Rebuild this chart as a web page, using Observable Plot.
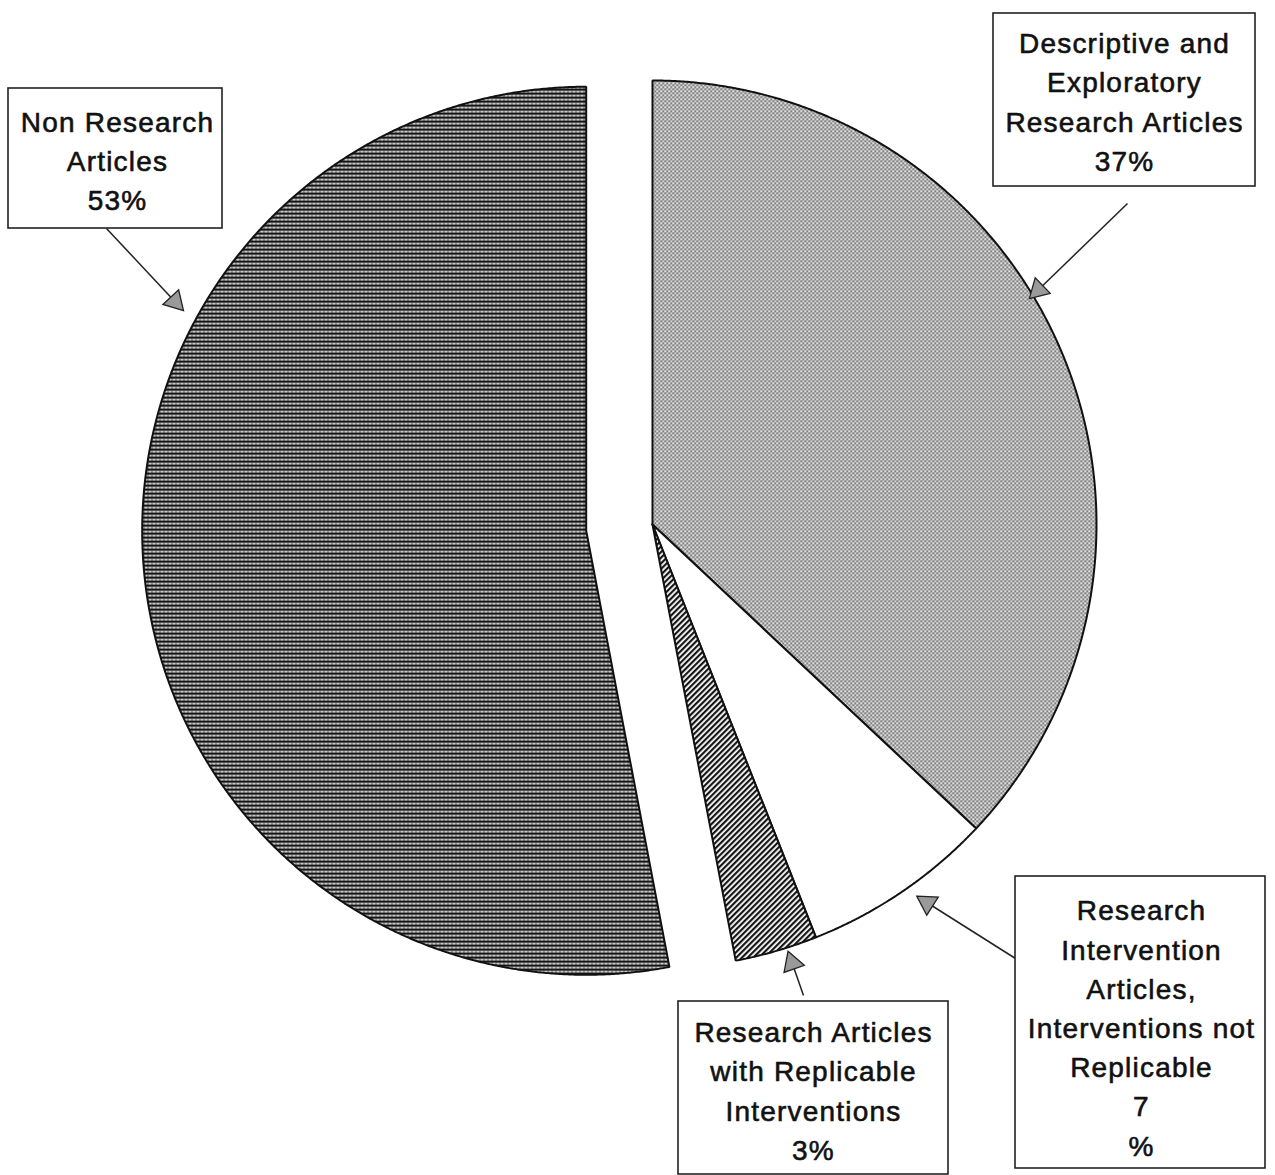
<!DOCTYPE html>
<html>
<head>
<meta charset="utf-8">
<script src="https://cdn.jsdelivr.net/npm/d3@7"></script>
<script src="https://cdn.jsdelivr.net/npm/@observablehq/plot@0.6"></script>
<style>
  html, body { margin: 0; padding: 0; background: #fff; }
  #chart { width: 1275px; height: 1175px; overflow: hidden; }
</style>
</head>
<body>
<div id="chart"></div>
<script>
// ---- data ----
const categories = [
  "Descriptive and Exploratory Research Articles",
  "Research Intervention Articles, Interventions not Replicable",
  "Research Articles with Replicable Interventions",
  "Non Research Articles"
];
const shares = [37, 7, 3, 53];
const labelTexts = [
  "Descriptive and\nExploratory\nResearch Articles\n37%",
  "Research\nIntervention\nArticles,\nInterventions not\nReplicable\n7\n%",
  "Research Articles\nwith Replicable\nInterventions\n3%",
  "Non Research\nArticles\n53%"
];

// ---- layout (pixels) ----
const W = 1275, H = 1175;
const center = [652, 524], radiusPx = 444;
const explode = [0, 0, 0, 0.15];
const fills = ["url(#stipple)", "#ffffff", "url(#diag)", "url(#hlines)"];
const boxes = [[993, 13, 1255, 186], [1015, 876, 1265, 1168], [678, 1001, 948, 1174], [8, 88, 222, 228]];
const textAt = [[1124, 99], [1141, 1025], [813, 1088], [117, 158]];
const arrows = [[1127, 203, 1032, 295], [1015, 958, 920, 898], [803, 995, 789, 955], [106, 228, 180, 307]];

const px2x = p => (p - center[0]) / radiusPx;
const px2y = p => (center[1] - p) / radiusPx;

// ---- slices ----
const arcs = d3.pie().sort(null).value(d => d)(shares);
const slices = arcs.map((a, i) => {
  const mid = (a.startAngle + a.endAngle) / 2;
  const cx = explode[i] * Math.sin(mid), cy = explode[i] * Math.cos(mid);
  const pts = [{x: cx, y: cy}];
  const n = Math.max(2, Math.ceil((a.endAngle - a.startAngle) / (Math.PI / 720)));
  for (let k = 0; k <= n; k++) {
    const t = a.startAngle + (a.endAngle - a.startAngle) * k / n;
    pts.push({x: cx + Math.sin(t), y: cy + Math.cos(t)});
  }
  pts.push({x: cx, y: cy});
  return pts;
});

const boxData = boxes.map((b, i) => ({x1: px2x(b[0]), x2: px2x(b[2]), y1: px2y(b[1]), y2: px2y(b[3]), name: categories[i]}));
const textData = textAt.map((t, i) => ({x: px2x(t[0]), y: px2y(t[1]), text: labelTexts[i]}));
const linkData = arrows.map(a => ({x1: px2x(a[0]), y1: px2y(a[1]), x2: px2x(a[2]), y2: px2y(a[3])}));
const headData = arrows.map(a => {
  const dx = a[2] - a[0], dy = a[3] - a[1], L = Math.hypot(dx, dy);
  const back = 8;
  return {
    x: px2x(a[2] - dx / L * back), y: px2y(a[3] - dy / L * back),
    rotate: Math.atan2(dx, -dy) * 180 / Math.PI
  };
});

const plot = Plot.plot({
  width: W, height: H,
  margin: 0,
  x: {domain: [px2x(0), px2x(W)], axis: null},
  y: {domain: [px2y(H), px2y(0)], axis: null},
  style: "font-family:'Liberation Sans',Arial,sans-serif;letter-spacing:1.2px;background:#fff;",
  marks: [
    ...slices.map((pts, i) => Plot.line(pts, {x: "x", y: "y", fill: fills[i], stroke: "#111", strokeWidth: 2, strokeLinejoin: "miter"})),
    Plot.link(linkData, {x1: "x1", y1: "y1", x2: "x2", y2: "y2", stroke: "#222", strokeWidth: 1.5}),
    Plot.dot(headData, {x: "x", y: "y", rotate: "rotate", symbol: "triangle", r: 8, fill: "#9a9a9a", stroke: "#222", strokeWidth: 1.3}),
    Plot.rect(boxData, {x1: "x1", x2: "x2", y1: "y1", y2: "y2", fill: "#fff", stroke: "#222", strokeWidth: 1.6}),
    Plot.text(textData, {x: "x", y: "y", text: "text", fontSize: 28, lineHeight: 1.4, lineAnchor: "middle", textAnchor: "middle", fill: "#111", stroke: "#111", strokeWidth: 0.6})
  ]
});

d3.select(plot).insert("defs", ":first-child").html(`
  <pattern id="hlines" patternUnits="userSpaceOnUse" width="4" height="4">
    <rect width="4" height="4" fill="#f4f4f4"/>
    <rect y="0" width="4" height="2.4" fill="#151515"/>
    <rect x="3" y="2" width="1" height="2" fill="#666"/>
  </pattern>
  <pattern id="stipple" patternUnits="userSpaceOnUse" width="4" height="4">
    <rect width="4" height="4" fill="#e2e2e2"/>
    <rect x="0" y="0" width="1.4" height="1.4" fill="#1e1e1e"/>
    <rect x="2" y="2" width="1.4" height="1.4" fill="#1e1e1e"/>
    <rect x="2" y="0" width="1" height="1" fill="#a0a0a0"/>
  </pattern>
  <pattern id="diag" patternUnits="userSpaceOnUse" width="4" height="4" patternTransform="rotate(-45)">
    <rect width="4" height="4" fill="#ffffff"/>
    <rect y="0" width="4" height="2.2" fill="#151515"/>
  </pattern>
`);

document.getElementById("chart").appendChild(plot);
</script>
</body>
</html>
